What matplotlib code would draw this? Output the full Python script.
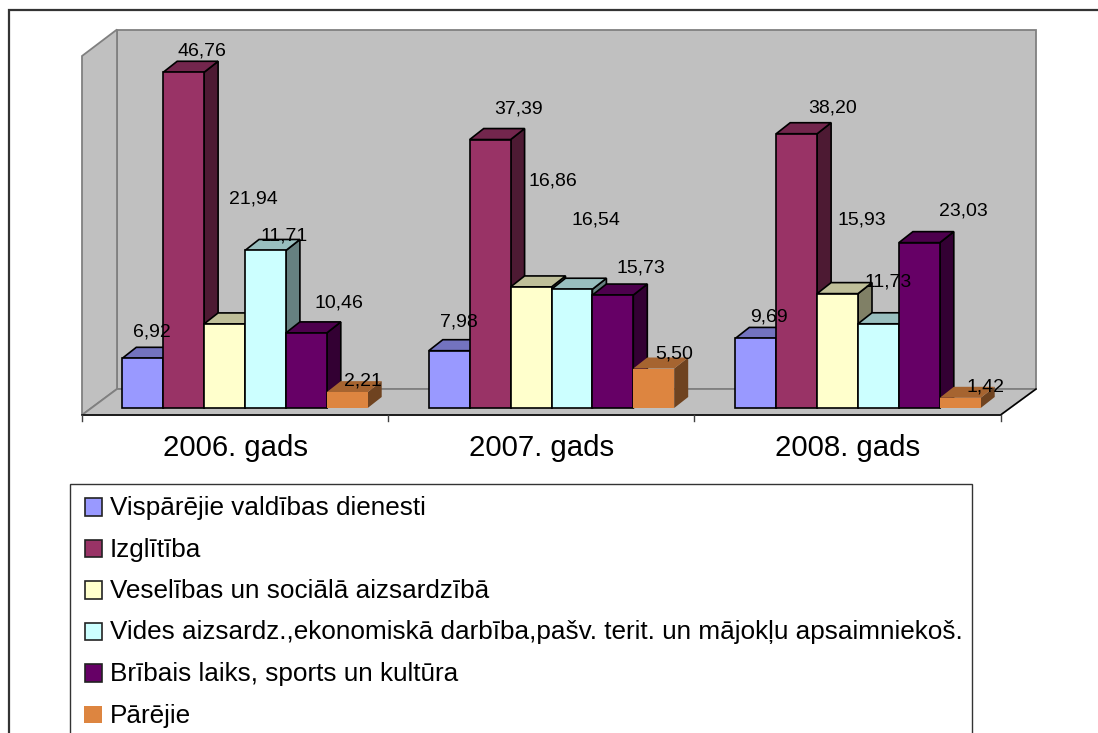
import matplotlib
matplotlib.use("Agg")
import matplotlib.pyplot as plt
from matplotlib.colors import to_rgb
from matplotlib.patches import Rectangle, Polygon

plt.rcParams['font.family'] = ['Liberation Sans', 'DejaVu Sans']

# Data
years = ["2006. gads", "2007. gads", "2008. gads"]
series_names = [
    "Vispārējie valdības dienesti",
    "Izglītība",
    "Veselības un sociālā aizsardzībā",
    "Vides aizsardz.,ekonomiskā darbība,pašv. terit. un mājokļu apsaimniekoš.",
    "Brībais laiks, sports un kultūra",
    "Pārējie",
]
vispareji = [6.92, 7.98, 9.69]
izglitiba = [46.76, 37.39, 38.20]
veseliba = [11.71, 16.86, 15.93]
vides = [21.94, 16.54, 11.73]
brivais = [10.46, 15.73, 23.03]
pareji = [2.21, 5.50, 1.42]
all_series = [vispareji, izglitiba, veseliba, vides, brivais, pareji]

colors = ["#9999FF", "#993366", "#FFFFCC", "#CCFFFF", "#660066", "#DD8540"]
edges = ["black", "black", "black", "black", "black", None]

# Label offsets in pixels from the top middle of each bar (the source chart places them oddly)
label_offsets = [
    [(9, 26), (10, 29), (13, 21)],
    [(18, 21), (28, 31), (36, 26)],
    [(60, 88), (22, 106), (24, 74)],
    [(-12, 51), (24, 69), (10, 42)],
    [(33, 30), (28, 27), (44, 32)],
    [(16, 11), (20, 15), (25, 11)],
]

W, H = 1098, 733
GROUP_PX = 306.5
BAR_PX = 40.9
UNIT_PX = 7.18
X0_PX = 245.0   # middle of the first group of bars
Y0_PX = 408.0   # front foot of the bars
DEPTH_X = 14 / GROUP_PX
DEPTH_Y = 11 / UNIT_PX
bar_width = BAR_PX / GROUP_PX


def shade(color, f):
    return tuple(c * f for c in to_rgb(color))


fig = plt.figure(figsize=(W / 100, H / 100), dpi=100)

# Pixel axes for the frame, walls and legend
bg = fig.add_axes([0, 0, 1, 1])
bg.set_xlim(0, W)
bg.set_ylim(H, 0)
bg.axis("off")

bg.plot([9, 9, W], [H, 10, 10], color="#333333", lw=1.6, solid_joinstyle="miter")

wall = dict(facecolor="#C0C0C0", edgecolor="#808080", lw=1.3)
bg.add_patch(Polygon([(117, 29.5), (1036, 29.5), (1036, 389), (117, 389)], **wall))
bg.add_patch(Polygon([(82, 56), (117, 29.5), (117, 389), (82, 415)], **wall))
bg.add_patch(Polygon([(82, 415), (117, 389), (1036, 389), (1000.5, 415)], **wall))
bg.plot([82, 1000.5, 1036], [415, 415, 389], color="black", lw=1.1)

for i, name in enumerate(years):
    left = 82 + i * 306.2
    bg.plot([left, left], [415, 421], color="#404040", lw=1.0)
    bg.text(left + 153.5, 447.5, name, fontsize=21.2, ha="center", va="center", color="black")
bg.plot([1000.5, 1000.5], [415, 421], color="#404040", lw=1.0)

# Legend box runs off the bottom of the picture
bg.add_patch(Rectangle((70, 484), 902, 260, facecolor="white", edgecolor="#333333", lw=1.0))
for i, name in enumerate(series_names):
    y = 498 + i * 41.5
    if edges[i]:
        bg.add_patch(Rectangle((84.5, y), 17.5, 17.5, facecolor=colors[i], edgecolor="#222222", lw=1.2))
    else:
        bg.add_patch(Rectangle((84, y), 17.5, 17.5, facecolor=colors[i], edgecolor="none"))
    bg.text(110, y + 10, name, fontsize=18.8, ha="left", va="center", color="black")

# Data axes: x in groups, y in percent, same pixels as the reference
ax = fig.add_axes([0, 0, 1, 1])
ax.set_xlim(-X0_PX / GROUP_PX, (W - X0_PX) / GROUP_PX)
ax.set_ylim((Y0_PX - H) / UNIT_PX, Y0_PX / UNIT_PX)
ax.axis("off")
ax.patch.set_alpha(0)

for g in range(len(years)):
    for i, values in enumerate(all_series):
        v = values[g]
        x = g + (i - 2.5) * bar_width
        l, r = x - bar_width / 2, x + bar_width / 2
        ec = edges[i] if edges[i] else "none"
        top = [(l, v), (r, v), (r + DEPTH_X, v + DEPTH_Y), (l + DEPTH_X, v + DEPTH_Y)]
        side = [(r, 0), (r + DEPTH_X, DEPTH_Y), (r + DEPTH_X, v + DEPTH_Y), (r, v)]
        ax.add_patch(Polygon(side, facecolor=shade(colors[i], 0.5), edgecolor=ec, lw=1.2))
        ax.add_patch(Polygon(top, facecolor=shade(colors[i], 0.75), edgecolor=ec, lw=1.2))
        ax.bar(x, v, width=bar_width, color=colors[i], edgecolor=ec, linewidth=1.2)

for i, values in enumerate(all_series):
    for g, v in enumerate(values):
        x = g + (i - 2.5) * bar_width
        ax.annotate(f"{v:.2f}".replace(".", ","), xy=(x, v), xytext=label_offsets[i][g],
                    textcoords="offset pixels", fontsize=14.0, ha="center", va="center",
                    color="black", zorder=10)

fig.savefig("out.png", dpi=100)
